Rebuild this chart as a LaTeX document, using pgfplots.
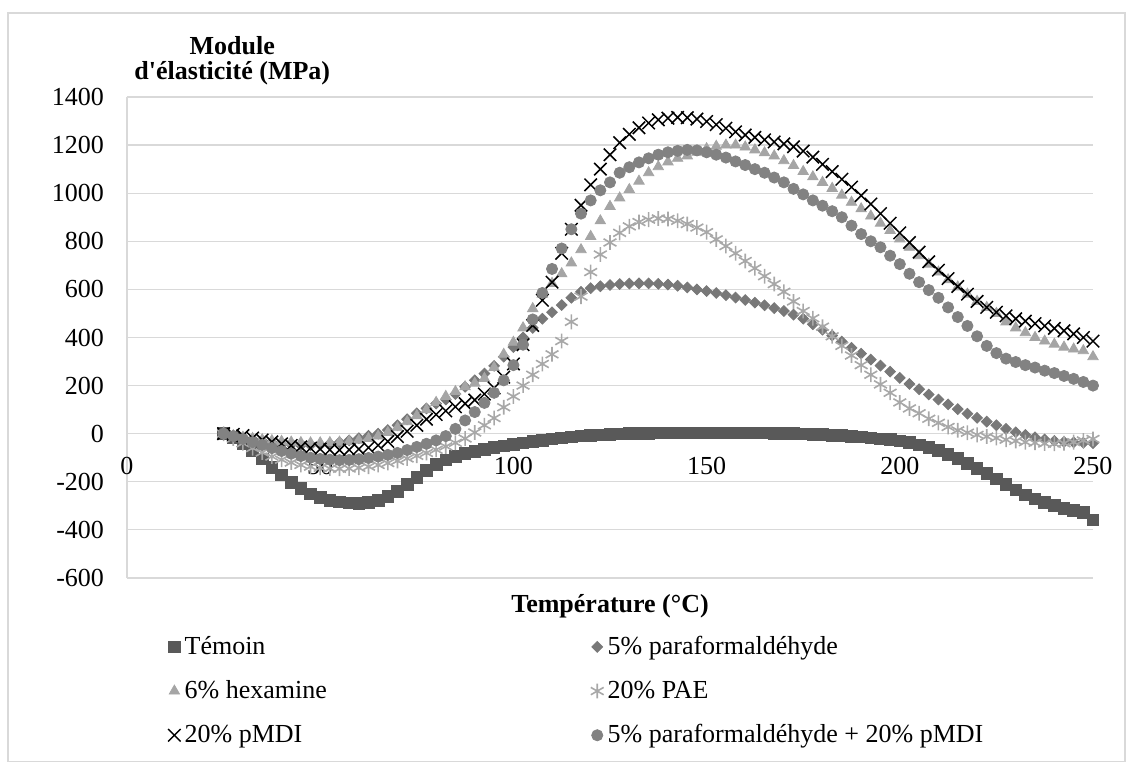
\documentclass[border=0pt]{standalone}
\usepackage{pgfplots}
\pgfplotsset{compat=1.18}
\usepackage{pgfplotstable}
\usepackage{fontspec}
\setmainfont{Liberation Serif}

\definecolor{gridgray}{HTML}{D9D9D9}
\definecolor{cTemoin}{HTML}{595959}
\definecolor{cPara}{HTML}{787878}
\definecolor{cHexa}{HTML}{A5A5A5}
\definecolor{cPae}{HTML}{A8A8A8}
\definecolor{cMix}{HTML}{828282}

% T = temperature (°C), modules in MPa
\pgfplotstableread{
T     temoin para hexa pae  pmdi mix
25    0      0    0    0    0    0
27.5  -15    -8   -8   -20  -3   -10
30    -40    -15  -15  -40  -8   -22
32.5  -70    -23  -20  -60  -18  -35
35    -105   -30  -25  -78  -26  -47
37.5  -140   -36  -29  -95  -34  -60
40    -172   -42  -32  -108 -42  -72
42.5  -202   -45  -35  -120 -49  -83
45    -228   -48  -37  -130 -55  -93
47.5  -250   -48  -38  -137 -60  -100
50    -266   -46  -38  -142 -64  -105
52.5  -277   -42  -37  -145 -67  -108
55    -284   -36  -35  -146 -68  -110
57.5  -288   -28  -32  -145 -67  -109
60    -289   -19  -27  -142 -64  -106
62.5  -286   -9   -20  -137 -58  -101
65    -278   0    -10  -130 -48  -95
67.5  -262   15   5    -122 -32  -88
70    -240   35   25   -113 -12  -80
72.5  -212   60   50   -103 10   -68
75    -182   85   75   -92  35   -55
77.5  -152   105  100  -80  60   -42
80    -127   125  130  -67  80   -28
82.5  -109   142  155  -53  95   -10
85    -95    165  175  -38  112  20
87.5  -83    195  195  -20  125  55
90    -74    222  210  5    140  90
92.5  -66    250  230  35   165  128
95    -58    282  275  65   190  170
97.5  -51    320  330  110  235  222
100   -44    360  380  155  290  285
102.5 -38    400  440  200  370  370
105   -32    440  520  245  450  475
107.5 -27    478  580  290  555  585
110   -22    505  625  330  630  685
112.5 -18    535  665  385  750  770
115   -14    565  710  465  850  850
117.5 -10    590  765  570  950  915
120   -7     605  820  672  1035 970
122.5 -5     613  885  745  1100 1012
125   -3     618  945  795  1160 1045
127.5 -1     622  980  835  1210 1085
130   0      624  1015 862  1245 1108
132.5 1      625  1050 880  1272 1128
135   2      625  1085 890  1292 1145
137.5 3      623  1110 895  1305 1160
140   3      620  1130 893  1312 1170
142.5 4      615  1145 885  1315 1176
145   4      608  1155 872  1314 1180
147.5 4      600  1170 857  1308 1178
150   4      593  1185 838  1298 1170
152.5 4      585  1195 808  1285 1160
155   4      576  1200 780  1270 1148
157.5 4      566  1200 750  1255 1132
160   4      556  1192 718  1242 1117
162.5 3      545  1180 688  1232 1100
165   3      534  1168 655  1222 1085
167.5 2      522  1155 622  1213 1065
170   1      510  1135 590  1205 1045
172.5 0      495  1115 550  1193 1018
175   -1     478  1090 510  1175 995
177.5 -2     455  1068 480  1150 970
180   -4     432  1045 445  1120 948
182.5 -6     408  1020 405  1090 925
185   -8     383  992  365  1058 900
187.5 -11    357  962  325  1025 865
190   -14    333  935  285  990  830
192.5 -17    308  905  245  955  800
195   -21    283  875  205  915  775
197.5 -25    258  845  170  875  740
200   -30    232  810  130  835  705
202.5 -37    207  775  105  795  665
205   -46    185  740  85   755  630
207.5 -57    163  705  62   715  597
210   -70    142  672  45   680  565
212.5 -86    122  640  28   645  525
215   -104   102  610  14   612  485
217.5 -124   83   580  4    580  448
220   -145   66   550  -5   550  405
222.5 -166   50   525  -12  525  365
225   -188   35   500  -18  505  335
227.5 -211   20   465  -25  490  312
230   -234   6    440  -30  478  298
232.5 -254   -5   420  -35  468  285
235   -271   -15  400  -38  458  275
237.5 -286   -24  385  -41  448  262
240   -299   -30  372  -42  438  252
242.5 -310   -34  360  -40  428  240
245   -320   -36  352  -35  415  228
247.5 -328   -38  345  -28  400  215
250   -358   -40  320  -22  385  200
}\dmadata

\begin{document}
\begin{tikzpicture}
\useasboundingbox (-63.5pt,-92.5pt) rectangle (502.5pt,289pt);
\draw[gridgray, line width=0.6pt] (-59.5pt,-91.6pt) rectangle (499pt,282.5pt);
\begin{axis}[
    scale only axis,
    width=483pt, height=240.5pt,
    xmin=0, xmax=250, ymin=-600, ymax=1400,
    axis x line=middle, axis y line=left,
    axis line style={gridgray, line width=0.6pt, -},
    hide obscured x ticks=false, hide obscured y ticks=false,
    xtick={0,50,...,250}, ytick={-600,-400,...,1400},
    major tick length=0pt,
    ymajorgrids, grid style={gridgray, line width=0.6pt},
    tick label style={font=\fontsize{13}{15}\selectfont},
    xticklabel style={yshift=-8pt},
    yticklabel style={xshift=-8pt},
    /pgf/number format/assume math mode=true,
    /pgf/number format/1000 sep={},
    clip=false,
    legend columns=2,
    legend cell align=left,
    legend image code/.code={\draw[#1] plot coordinates {(0pt,0pt)};},
    legend style={at={(axis description cs:0.036,-0.112)}, anchor=north west,
        draw=none, fill=none, font=\fontsize{13}{15}\selectfont,
        row sep=11.5pt, nodes={inner xsep=2pt, inner ysep=0pt},
        /tikz/every even column/.append style={column sep=130pt}},
]
\addplot[only marks, mark=square*, mark size=2.9pt, color=cTemoin]
    table[x=T, y=temoin] {\dmadata};
\addlegendentry{Témoin}
\addplot[only marks, mark=square*, mark size=1.9pt, mark options={rotate=45}, color=cPara]
    table[x=T, y=para] {\dmadata};
\addlegendentry{5\% paraformaldéhyde}
\addplot[only marks, mark=triangle*, mark size=3pt, color=cHexa]
    table[x=T, y=hexa] {\dmadata};
\addlegendentry{6\% hexamine}
\addplot[only marks, mark=asterisk, mark size=3.7pt, mark options={line width=0.8pt}, color=cPae]
    table[x=T, y=pae] {\dmadata};
\addlegendentry{20\% PAE}
\addplot[only marks, mark=x, mark size=4.4pt, mark options={line width=0.75pt}, color=black]
    table[x=T, y=pmdi] {\dmadata};
\addlegendentry{20\% pMDI}
\addplot[only marks, mark=*, mark size=2.8pt, color=cMix]
    table[x=T, y=mix] {\dmadata};
\addlegendentry{5\% paraformaldéhyde + 20\% pMDI}

\node[font=\bfseries\fontsize{13}{12.5}\selectfont, align=center, anchor=south, inner sep=0pt, yshift=6pt]
    at (rel axis cs:0.109,1) {Module\\d\textquotesingle élasticité (MPa)};
\node[font=\bfseries\fontsize{13}{15}\selectfont, anchor=north, inner sep=0pt, yshift=-8pt]
    at (rel axis cs:0.5,0) {Température (°C)};
\end{axis}
\end{tikzpicture}
\end{document}
